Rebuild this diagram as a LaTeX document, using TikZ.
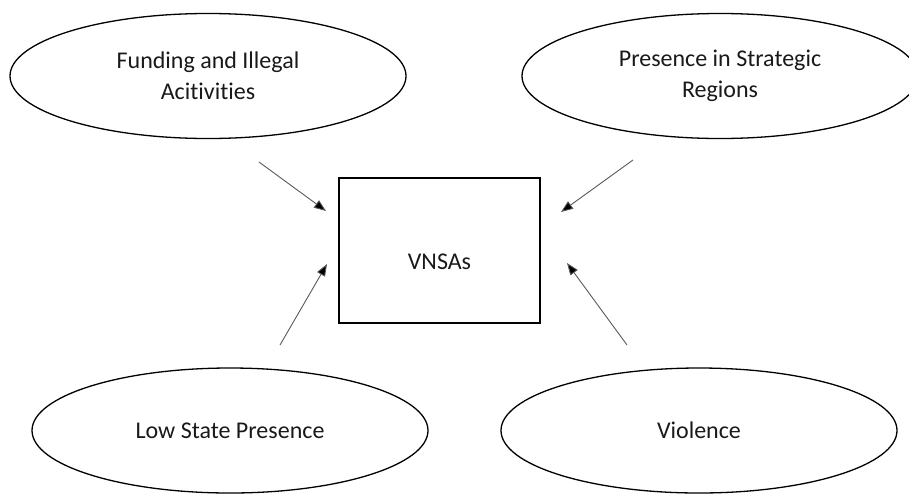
\documentclass[tikz,border=0pt]{standalone}
\usepackage{fontspec}
\setmainfont[Ligatures=NoCommon]{Carlito}
\usetikzlibrary{shapes.geometric,arrows.meta}
\newcommand{\nti}{t\kern0pt i}
\begin{document}
\begin{tikzpicture}[x=1pt,y=-1pt,
  oval/.style={draw=black,line width=1.3pt,ellipse,minimum width=396pt,minimum height=125pt,inner sep=0pt,
    align=center,font=\fontsize{24}{31}\selectfont,text=black!90},
  box/.style={draw=black,line width=1.3pt,rectangle,minimum width=201pt,minimum height=145pt,inner sep=0pt},
  conn/.style={draw=black!65,line width=0.9pt,-{Triangle[length=12pt,width=9pt,fill=black]}}]
\useasboundingbox (0,0) rectangle (909,493);
\node[oval] (fund) at (208,76) {Funding and Illegal\\Aci\nti vi\nti es};
\node[oval] (pres) at (720,76) {Presence in Strategic\\Regions};
\node[oval] (low) at (230,430.5) {Low State Presence};
\node[oval] (viol) at (699,430.5) {Violence};
\node[box,label={[yshift=-11pt,font=\fontsize{24}{31}\selectfont,text=black!90]center:VNSAs}] (vnsa) at (439.5,250.5) {};
\coordinate (a1s) at (259,162); \coordinate (a1e) at (326,211);
\coordinate (a2s) at (633,160); \coordinate (a2e) at (561,212);
\coordinate (a3s) at (280,345); \coordinate (a3e) at (327,264);
\coordinate (a4s) at (627,345); \coordinate (a4e) at (567,263);
\draw[conn] (a1s) -- (a1e);
\draw[conn] (a2s) -- (a2e);
\draw[conn] (a3s) -- (a3e);
\draw[conn] (a4s) -- (a4e);
\end{tikzpicture}
\end{document}
